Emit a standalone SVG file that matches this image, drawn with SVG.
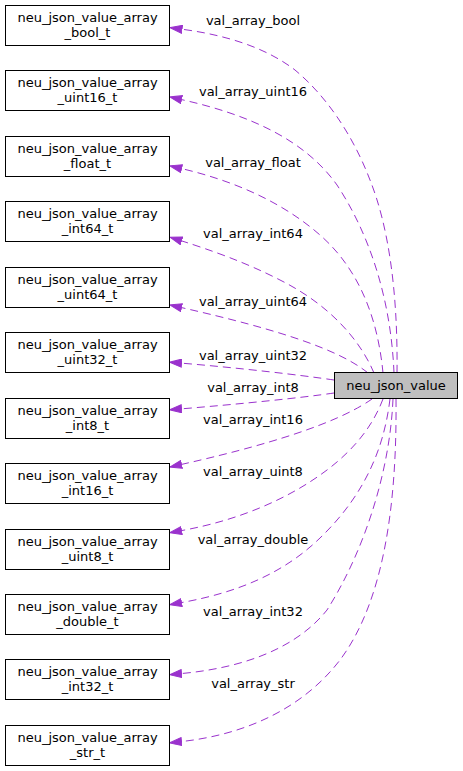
<svg xmlns="http://www.w3.org/2000/svg" width="463" height="771" viewBox="0 0 463 771">
<style>
  .box { fill: #ffffff; stroke: #000000; stroke-width: 1; }
  .main { fill: #bfbfbf; stroke: #000000; stroke-width: 1; }
  text { font-family: "DejaVu Sans", "Liberation Sans", sans-serif; font-size: 13px; fill: #000000; text-anchor: middle; }
  .edge { fill: none; stroke: #9a32cd; stroke-width: 1; stroke-dasharray: 8,5; marker-end: url(#arrow); }
</style>
<defs>
  <marker id="arrow" viewBox="0 0 13 9" refX="0" refY="4.5" markerWidth="13" markerHeight="9" markerUnits="userSpaceOnUse" orient="auto">
    <path d="M0.5,0.5 L12.5,4.5 L0.5,8.5 Z" fill="#9a32cd" stroke="#9a32cd" stroke-width="1" stroke-dasharray="none"/>
  </marker>
</defs>
<rect width="463" height="771" fill="#ffffff"/>

<g id="connectors">
  <path class="edge" d="M397,373 C398,290 388,225 370,180 C352,133 325,95 295,70 C265,47 225,35 182.5,29.3"/>
  <path class="edge" d="M394,373 C391,300 370,235 337,185 C305,140 250,115 182,99.7"/>
  <path class="edge" d="M383,373 C378,320 360,270 320,235 C280,200 230,180 182,168.7"/>
  <path class="edge" d="M374,373 C360,340 330,305 280,280 C245,262 210,250 182,241"/>
  <path class="edge" d="M368,373 C340,350 280,330 182,307.7"/>
  <path class="edge" d="M334,380 C300,375 240,368 182,363.2"/>
  <path class="edge" d="M334,393 C300,398 240,404 182,408.8"/>
  <path class="edge" d="M372,399 C345,418 290,440 182,464.3"/>
  <path class="edge" d="M383,399 C375,420 360,445 327,470 C290,498 240,520 182,530.5"/>
  <path class="edge" d="M390,399 C385,440 370,490 320,538 C285,572 240,592 182,602.5"/>
  <path class="edge" d="M393,399 C390,470 365,550 327,610 C295,650 240,668 182,673.5"/>
  <path class="edge" d="M396,399 C397,500 385,600 340,660 C300,712 240,735 182,741.5"/>
</g>

<g id="edge-labels">
  <text x="253" y="25">val_array_bool</text>
  <text x="253" y="96">val_array_uint16</text>
  <text x="253" y="167">val_array_float</text>
  <text x="253" y="238">val_array_int64</text>
  <text x="253" y="306">val_array_uint64</text>
  <text x="253" y="360">val_array_uint32</text>
  <text x="253" y="392">val_array_int8</text>
  <text x="253" y="424">val_array_int16</text>
  <text x="253" y="476">val_array_uint8</text>
  <text x="253" y="544">val_array_double</text>
  <text x="253" y="616">val_array_int32</text>
  <text x="253" y="688">val_array_str</text>
</g>

<g id="node-main">
  <rect class="main" x="334.5" y="372.5" width="123" height="26"/>
  <text x="396" y="389.5">neu_json_value</text>
</g>

<g id="node-bool">
  <rect class="box" x="5.5" y="5.5" width="164" height="40"/>
  <text x="87.5" y="22">neu_json_value_array</text>
  <text x="87.5" y="37">_bool_t</text>
</g>
<g id="node-uint16">
  <rect class="box" x="5.5" y="70.5" width="164" height="40"/>
  <text x="87.5" y="87">neu_json_value_array</text>
  <text x="87.5" y="102">_uint16_t</text>
</g>
<g id="node-float">
  <rect class="box" x="5.5" y="136.5" width="164" height="40"/>
  <text x="87.5" y="153">neu_json_value_array</text>
  <text x="87.5" y="168">_float_t</text>
</g>
<g id="node-int64">
  <rect class="box" x="5.5" y="201.5" width="164" height="40"/>
  <text x="87.5" y="218">neu_json_value_array</text>
  <text x="87.5" y="233">_int64_t</text>
</g>
<g id="node-uint64">
  <rect class="box" x="5.5" y="267.5" width="164" height="40"/>
  <text x="87.5" y="284">neu_json_value_array</text>
  <text x="87.5" y="299">_uint64_t</text>
</g>
<g id="node-uint32">
  <rect class="box" x="5.5" y="332.5" width="164" height="40"/>
  <text x="87.5" y="349">neu_json_value_array</text>
  <text x="87.5" y="364">_uint32_t</text>
</g>
<g id="node-int8">
  <rect class="box" x="5.5" y="398.5" width="164" height="40"/>
  <text x="87.5" y="415">neu_json_value_array</text>
  <text x="87.5" y="430">_int8_t</text>
</g>
<g id="node-int16">
  <rect class="box" x="5.5" y="463.5" width="164" height="40"/>
  <text x="87.5" y="480">neu_json_value_array</text>
  <text x="87.5" y="495">_int16_t</text>
</g>
<g id="node-uint8">
  <rect class="box" x="5.5" y="529.5" width="164" height="40"/>
  <text x="87.5" y="546">neu_json_value_array</text>
  <text x="87.5" y="561">_uint8_t</text>
</g>
<g id="node-double">
  <rect class="box" x="5.5" y="594.5" width="164" height="40"/>
  <text x="87.5" y="611">neu_json_value_array</text>
  <text x="87.5" y="626">_double_t</text>
</g>
<g id="node-int32">
  <rect class="box" x="5.5" y="659.5" width="164" height="40"/>
  <text x="87.5" y="676">neu_json_value_array</text>
  <text x="87.5" y="691">_int32_t</text>
</g>
<g id="node-str">
  <rect class="box" x="5.5" y="725.5" width="164" height="40"/>
  <text x="87.5" y="742">neu_json_value_array</text>
  <text x="87.5" y="757">_str_t</text>
</g>
</svg>
